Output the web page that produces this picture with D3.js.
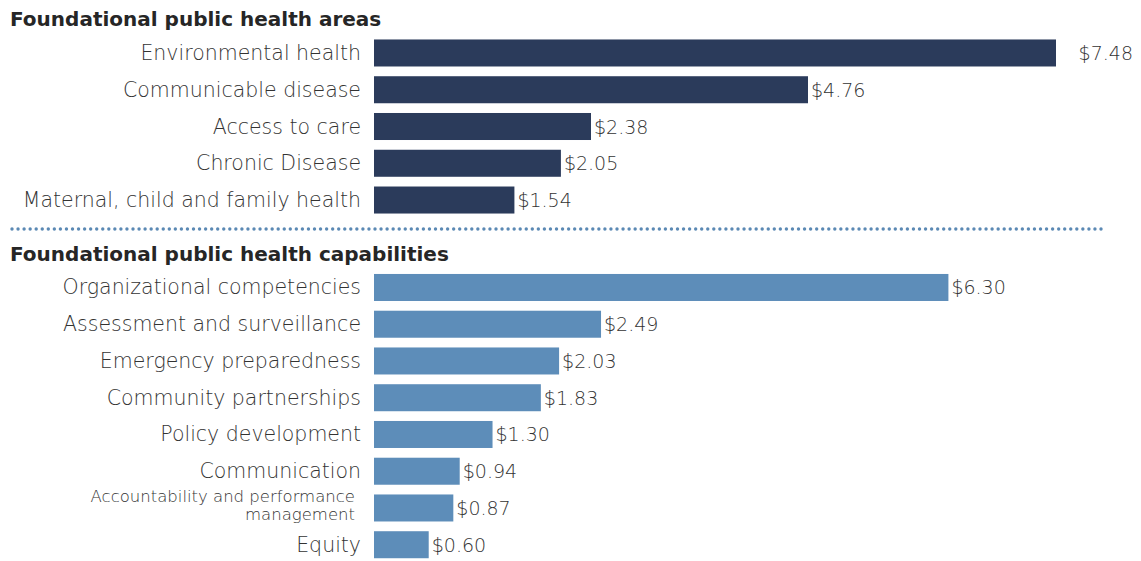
<!DOCTYPE html>
<html>
<head>
<meta charset="utf-8">
<script src="https://cdn.jsdelivr.net/npm/d3@7"></script>
<style>
  html, body { margin: 0; padding: 0; background: #ffffff; }
  svg { display: block; }
</style>
</head>
<body>
<div id="chart"></div>
<script>
// Per-capita spending, foundational public health areas
const areaCategories = [
  "Environmental health",
  "Communicable disease",
  "Access to care",
  "Chronic Disease",
  "Maternal, child and family health"
];
const areaValues = [7.48, 4.76, 2.38, 2.05, 1.54];

// Per-capita spending, foundational public health capabilities
const capabilityCategories = [
  "Organizational competencies",
  "Assessment and surveillance",
  "Emergency preparedness",
  "Community partnerships",
  "Policy development",
  "Communication",
  "Accountability and performance management",
  "Equity"
];
const capabilityValues = [6.30, 2.49, 2.03, 1.83, 1.30, 0.94, 0.87, 0.60];

const sectionTitles = [
  "Foundational public health areas",
  "Foundational public health capabilities"
];

const W = 1141, H = 561;
const labelFont = "'DejaVu Sans', sans-serif";
const titleFont = "'DejaVu Sans', sans-serif";

const svg = d3.select("#chart").append("svg")
  .attr("width", W).attr("height", H);

// Shared dollar scale for both panels
const x = d3.scaleLinear()
  .domain([0, d3.max(areaValues.concat(capabilityValues))])
  .range([374, 1056]);

function panel(categories, values, color, yRange, title, titleY) {
  const y = d3.scaleBand()
    .domain(categories)
    .range(yRange)
    .paddingInner(0.265)
    .paddingOuter(0.1325);

  const rows = categories.map((c, i) => ({ c, v: values[i] }));

  svg.append("text")
    .attr("x", 10).attr("y", titleY)
    .attr("font-family", titleFont)
    .attr("font-weight", 700)
    .attr("font-size", 20)
    .attr("fill", "#262626")
    .text(title);

  const g = svg.append("g");

  g.selectAll("rect").data(rows).join("rect")
    .attr("x", x(0))
    .attr("y", d => y(d.c))
    .attr("width", d => x(d.v) - x(0))
    .attr("height", y.bandwidth())
    .attr("fill", color);

  // Category labels; long names wrap onto two smaller lines
  g.selectAll("g.cat").data(rows).join("g")
    .attr("class", "cat")
    .each(function (d) {
      const cell = d3.select(this);
      const cy = y(d.c) + y.bandwidth() / 2;
      const lines = d.c.length > 36
        ? [d.c.split(" ").slice(0, -1).join(" "), d.c.split(" ").slice(-1)[0]]
        : [d.c];
      const small = lines.length > 1;
      cell.selectAll("text").data(lines).join("text")
        .attr("text-anchor", "end")
        .attr("font-family", labelFont)
        .attr("font-weight", 200)
        .attr("fill", "#333333")
        .attr("font-size", small ? 16.5 : 20.5)
        .attr("x", small ? 355 : 361)
        .attr("y", (t, i) => small ? cy - 6 + i * 18.5 : cy + 7)
        .text(t => t);
    });

  // Value labels at the end of each bar
  const vmax = x.domain()[1];
  g.selectAll("text.val").data(rows).join("text")
    .attr("class", "val")
    .attr("font-family", labelFont)
    .attr("font-weight", 200)
    .attr("font-size", 19)
    .attr("fill", "#333333")
    .attr("x", d => d.v === vmax ? W - 8 : x(d.v) + 3)
    .attr("text-anchor", d => d.v === vmax ? "end" : "start")
    .attr("y", d => y(d.c) + y.bandwidth() / 2 + 7)
    .text(d => "$" + d3.format(".2f")(d.v));
}

panel(areaCategories, areaValues, "#2b3b5b", [34.6, 218.4], sectionTitles[0], 26);

// Dotted separator between the two sections
const dots = d3.range(12, 1106, 6.05);
svg.append("g").selectAll("circle").data(dots).join("circle")
  .attr("cx", d => d)
  .attr("cy", 229)
  .attr("r", 1.7)
  .attr("fill", "#5b89b4");

panel(capabilityCategories, capabilityValues, "#5d8db9", [269.1, 563.1], sectionTitles[1], 261);
</script>
</body>
</html>
